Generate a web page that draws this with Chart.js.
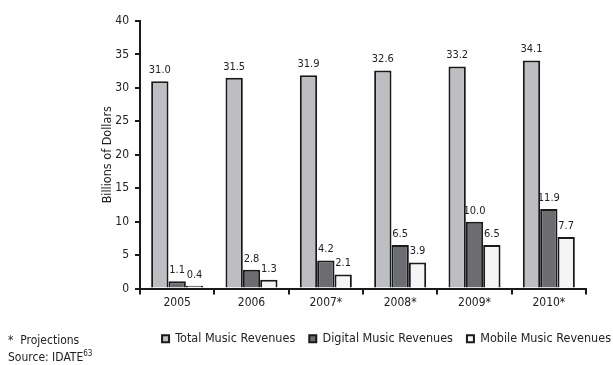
<!DOCTYPE html>
<html>
<head>
<meta charset="utf-8">
<script src="https://cdn.jsdelivr.net/npm/chart.js@4"></script>
<style>
  body { margin: 0; background: #fff; }
  #wrap { position: relative; width: 613px; height: 365px; overflow: hidden; }
  #musicChart { position: absolute; left: 0; top: 0; }
  .note { position: absolute; left: 8px; font: 12px "DejaVu Sans Condensed", sans-serif; color: #222; }
  .note sup { font-size: 8px; }
</style>
</head>
<body>
<div id="wrap">
  <canvas id="musicChart" width="613" height="365"></canvas>
  <div class="note" style="top:333px">*&nbsp; Projections</div>
  <div class="note" style="top:349px">Source: IDATE<sup>63</sup></div>
</div>
<script>
////// data //////
const years = ['2005', '2006', '2007*', '2008*', '2009*', '2010*'];
const totalRevenues = [31.0, 31.5, 31.9, 32.6, 33.2, 34.1];
const digitalRevenues = [1.1, 2.8, 4.2, 6.5, 10.0, 11.9];
const mobileRevenues = [0.4, 1.3, 2.1, 3.9, 6.5, 7.7];

////// canvas //////
const musicCanvas = document.querySelector('#musicChart');
const textColor = '#222';
const lineColor = '#1a1a1a';
const fontFamily = '"DejaVu Sans Condensed", sans-serif';

// value labels above each bar
const barLabels = {
    id: 'barLabels',
    afterDatasetsDraw(chart) {
        const ctx = chart.ctx;
        ctx.save();
        ctx.font = '11px ' + fontFamily;
        ctx.fillStyle = textColor;
        ctx.textAlign = 'center';
        ctx.textBaseline = 'alphabetic';
        chart.data.datasets.forEach((ds, i) => {
            chart.getDatasetMeta(i).data.forEach((bar, j) => {
                ctx.fillText(ds.data[j].toFixed(1), bar.x, bar.y - 8);
            });
        });
        ctx.restore();
    }
};

let musicChart = new Chart(musicCanvas, {
    type: 'bar',
    data: {
        labels: years,
        datasets: [{
            label: 'Total Music Revenues',
            data: totalRevenues,
            backgroundColor: '#bdbec2',
            borderColor: lineColor,
            borderWidth: 2
        }, {
            label: 'Digital Music Revenues',
            data: digitalRevenues,
            backgroundColor: '#6c6d71',
            borderColor: lineColor,
            borderWidth: 2
        }, {
            label: 'Mobile Music Revenues',
            data: mobileRevenues,
            backgroundColor: '#f5f5f5',
            borderColor: lineColor,
            borderWidth: 2
        }]
    },
    options: {
        responsive: false,
        animation: false,
        categoryPercentage: 0.7,
        barPercentage: 1.0,
        // negative right padding lets the legend run to the edge
        layout: { padding: { left: 100, top: 21, right: -12, bottom: 10 } },
        plugins: {
            tooltip: { enabled: false },
            legend: {
                position: 'bottom',
                align: 'end',
                labels: {
                    boxWidth: 7,
                    boxHeight: 7,
                    padding: 14,
                    color: textColor,
                    font: { family: fontFamily, size: 12.5 },
                    generateLabels(chart) {
                        return chart.data.datasets.map((ds, i) => ({
                            text: ds.label,
                            fillStyle: ds.backgroundColor,
                            strokeStyle: lineColor,
                            lineWidth: 2,
                            fontColor: textColor,
                            datasetIndex: i
                        }));
                    }
                }
            }
        },
        scales: {
            x: {
                afterFit(scale) { scale.height = 30; },
                grid: {
                    display: true,
                    drawOnChartArea: false,
                    color: lineColor,
                    lineWidth: 2,
                    tickLength: 6
                },
                border: { color: lineColor, width: 2 },
                ticks: {
                    color: textColor,
                    padding: 1,
                    font: { family: fontFamily, size: 12 }
                }
            },
            y: {
                min: 0,
                max: 40,
                afterFit(scale) { scale.width = 40; },
                grid: {
                    display: true,
                    drawOnChartArea: false,
                    color: lineColor,
                    lineWidth: 2,
                    tickLength: 5
                },
                border: { color: lineColor, width: 2 },
                ticks: {
                    stepSize: 5,
                    color: textColor,
                    padding: 6,
                    font: { family: fontFamily, size: 12 }
                },
                title: {
                    display: true,
                    text: 'Billions of Dollars',
                    color: textColor,
                    padding: 0,
                    font: { family: fontFamily, size: 12.5 }
                }
            },
            // empty axis that only reserves the blank strip right of the plot
            yRight: {
                position: 'right',
                afterFit(scale) { scale.width = 39; },
                grid: { display: false },
                border: { display: false },
                ticks: { display: false }
            }
        }
    },
    plugins: [barLabels]
});
</script>
</body>
</html>
